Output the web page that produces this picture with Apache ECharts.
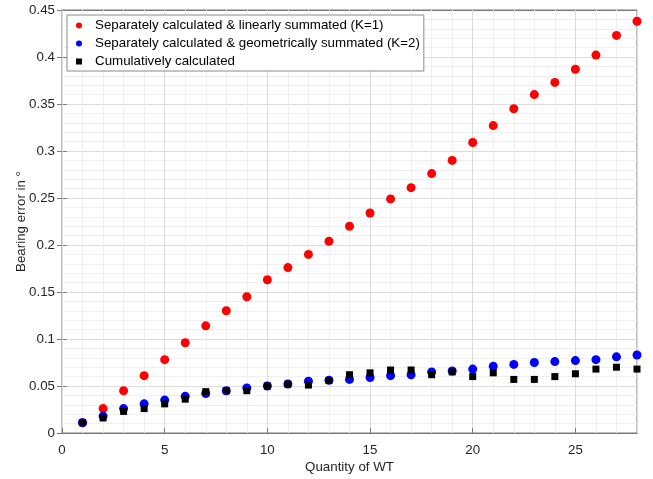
<!DOCTYPE html>
<html>
<head>
<meta charset="utf-8">
<script src="https://cdn.jsdelivr.net/npm/echarts@6/dist/echarts.min.js"></script>
<style>html,body{margin:0;padding:0;background:#fff}#c{width:653px;height:479px}</style>
</head>
<body>
<div id="c"></div>
<script>
var quantities = [1,2,3,4,5,6,7,8,9,10,11,12,13,14,15,16,17,18,19,20,21,22,23,24,25,26,27,28];
var linearK1 = [0.011,0.026,0.045,0.061,0.078,0.096,0.114,0.130,0.145,0.163,0.176,0.190,0.204,0.220,0.234,0.249,0.261,0.276,0.290,0.309,0.327,0.345,0.360,0.373,0.387,0.402,0.423,0.438];
var geometricK2 = [0.011,0.018,0.026,0.031,0.035,0.039,0.042,0.045,0.048,0.050,0.052,0.055,0.056,0.057,0.059,0.061,0.062,0.065,0.066,0.068,0.071,0.073,0.075,0.076,0.077,0.078,0.081,0.083];
var cumulative = [0.011,0.016,0.023,0.026,0.031,0.036,0.044,0.045,0.045,0.050,0.052,0.051,0.056,0.062,0.064,0.067,0.067,0.062,0.065,0.060,0.064,0.057,0.057,0.060,0.063,0.068,0.070,0.068];
var seriesNames = ['Separately calculated & linearly summated (K=1)','Separately calculated & geometrically summated (K=2)','Cumulatively calculated'];

function pairs(vals){ return quantities.map(function(q,i){ return [q, vals[i]]; }); }

var font = 'Liberation Sans, Arial, Helvetica, sans-serif';
var axisCol = '#7a7a7a';
var textCol = '#262626';
var fs = 13.33;
var chart = echarts.init(document.getElementById('c'));
chart.setOption({
  animation: false,
  textStyle: {fontFamily: font},
  grid: {left: 62, right: 16, top: 10, bottom: 46, show: true, borderColor: axisCol, borderWidth: 1,
         backgroundColor: 'transparent', containLabel: false, outerBoundsMode: 'none'},
  legend: {
    orient: 'vertical', left: 67, top: 15,
    backgroundColor: '#fff', borderColor: '#8a8a8a', borderWidth: 1, borderRadius: 0,
    padding: [4, 4, 3, 9], itemGap: 5, itemWidth: 6, itemHeight: 6,
    textStyle: {fontSize: fs, color: '#000', fontFamily: font, padding: [0, 0, 0, 8]},
    data: [
      {name: seriesNames[0], icon: 'circle'},
      {name: seriesNames[1], icon: 'circle'},
      {name: seriesNames[2], icon: 'rect'}
    ]
  },
  xAxis: [
    {type: 'value', min: 0, max: 28, interval: 5,
     name: 'Quantity of WT', nameLocation: 'middle', nameGap: 28, nameMoveOverlap: false,
     nameTextStyle: {fontSize: fs, color: textCol, fontFamily: font},
     axisLine: {show: true, lineStyle: {color: axisCol}},
     axisTick: {show: true, inside: true, length: 5, lineStyle: {color: axisCol}},
     axisLabel: {fontSize: fs, color: textCol, margin: 11, showMaxLabel: false, fontFamily: font},
     splitLine: {show: true, lineStyle: {color: '#dcdcdc'}}, z: 3},
    {type: 'value', min: 0, max: 28, interval: 1, position: 'bottom',
     axisLine: {show: false}, axisTick: {show: false}, axisLabel: {show: false},
     splitLine: {show: true, lineStyle: {color: '#efefef'}}, z: 1},
    {type: 'value', min: 0, max: 28, interval: 5, position: 'top',
     axisLine: {show: true, lineStyle: {color: axisCol}},
     axisTick: {show: true, inside: true, length: 5, lineStyle: {color: axisCol}},
     axisLabel: {show: false}, splitLine: {show: false}}
  ],
  yAxis: [
    {type: 'value', min: 0, max: 0.45, interval: 0.05,
     name: 'Bearing error in °', nameLocation: 'middle', nameGap: 34, nameRotate: 90, nameMoveOverlap: false,
     nameTextStyle: {fontSize: fs, color: textCol, fontFamily: font},
     axisLine: {show: true, lineStyle: {color: axisCol}},
     axisTick: {show: true, inside: true, length: 5, lineStyle: {color: axisCol}},
     axisLabel: {fontSize: fs, color: textCol, margin: 7, fontFamily: font},
     splitLine: {show: true, lineStyle: {color: '#dcdcdc'}},
     minorTick: {show: false, splitNumber: 5},
     minorSplitLine: {show: true, lineStyle: {color: '#efefef'}}},
    {type: 'value', min: 0, max: 0.45, interval: 0.05, position: 'right',
     axisLine: {show: true, lineStyle: {color: axisCol}},
     axisTick: {show: true, inside: true, length: 5, lineStyle: {color: axisCol}},
     axisLabel: {show: false}, splitLine: {show: false}}
  ],
  series: [
    {name: seriesNames[0], type: 'scatter', xAxisIndex: 0, yAxisIndex: 0, symbol: 'circle', symbolSize: 9,
     itemStyle: {color: '#ff0000', opacity: 1}, data: pairs(linearK1), z: 4},
    {name: seriesNames[1], type: 'scatter', xAxisIndex: 0, yAxisIndex: 0, symbol: 'circle', symbolSize: 9,
     itemStyle: {color: '#0000ff', opacity: 1}, data: pairs(geometricK2), z: 5},
    {name: seriesNames[2], type: 'scatter', xAxisIndex: 0, yAxisIndex: 0, symbol: 'rect', symbolSize: 7,
     itemStyle: {color: '#000000', opacity: 1}, data: pairs(cumulative), z: 6}
  ]
});
</script>
</body>
</html>
